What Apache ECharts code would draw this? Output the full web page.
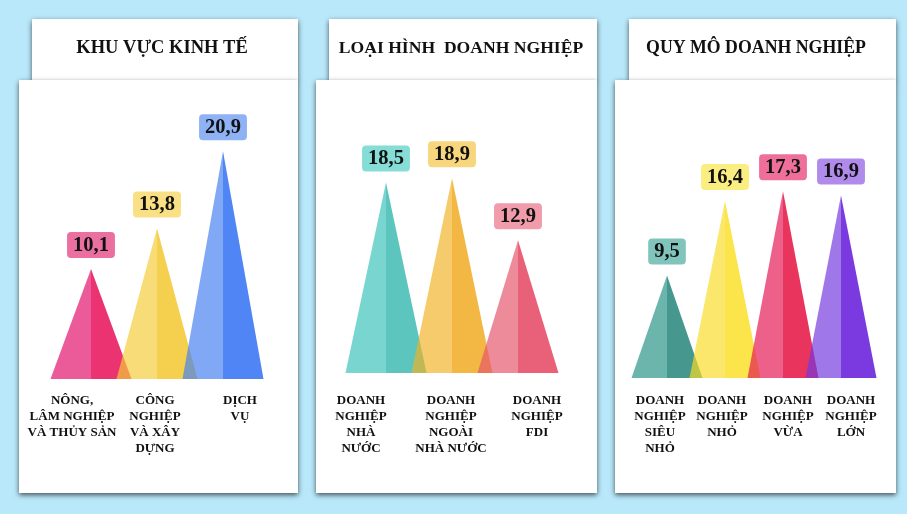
<!DOCTYPE html>
<html>
<head>
<meta charset="utf-8">
<script src="https://cdn.jsdelivr.net/npm/echarts@6/dist/echarts.min.js"></script>
<style>
  html, body { margin: 0; padding: 0; background: #B9E8FA; }
  #main { width: 907px; height: 514px; }
</style>
</head>
<body>
<div id="main"></div>
<script>
// data
var sectorTitle = 'KHU VỰC KINH TẾ';
var sectorCats = ['NÔNG,\nLÂM NGHIỆP\nVÀ THỦY SẢN', 'CÔNG\nNGHIỆP\nVÀ XÂY\nDỰNG', 'DỊCH\nVỤ'];
var sectorValues = [10.1, 13.8, 20.9];

var typeTitle = 'LOẠI HÌNH  DOANH NGHIỆP';
var typeCats = ['DOANH\nNGHIỆP\nNHÀ\nNƯỚC', 'DOANH\nNGHIỆP\nNGOÀI\nNHÀ NƯỚC', 'DOANH\nNGHIỆP\nFDI'];
var typeValues = [18.5, 18.9, 12.9];

var sizeTitle = 'QUY MÔ DOANH NGHIỆP';
var sizeCats = ['DOANH\nNGHIỆP\nSIÊU\nNHỎ', 'DOANH\nNGHIỆP\nNHỎ', 'DOANH\nNGHIỆP\nVỪA', 'DOANH\nNGHIỆP\nLỚN'];
var sizeValues = [9.5, 16.4, 17.3, 16.9];

var SERIF = '"Liberation Serif", "Times New Roman", serif';
var ALPHA = 0.68;

// layout + colours per panel
var panels = [
  {
    title: sectorTitle, cats: sectorCats, values: sectorValues,
    body: [19, 80, 279, 413], head: [32, 19, 266, 62], titleX: 162, titleSize: 18.5,
    grid: { left: 58, width: 198, top: 106.5, height: 272.5 },
    halfWidth: 40.5, labelMargin: 14, labelShift: [-19, -2, 17],
    left: ['#EC5B98', '#F8DC78', '#80A8F4'],
    right: ['#EA3370', '#F5CF4E', '#5085F5'],
    tag: ['#EC6FA1', '#F9E085', '#8FB2F5']
  },
  {
    title: typeTitle, cats: typeCats, values: typeValues,
    body: [316, 80, 281, 413], head: [329, 19, 268, 62], titleX: 461, titleSize: 17.6,
    grid: { left: 353, width: 198, top: 115.5, height: 257.5 },
    halfWidth: 40.5, labelMargin: 20, labelShift: [-25, -1, 19],
    left: ['#78D5CF', '#F5CB6B', '#EE8B9B'],
    right: ['#5CC5BD', '#F3B743', '#E96079'],
    tag: ['#86DDD5', '#F8D67E', '#F09CAA']
  },
  {
    title: sizeTitle, cats: sizeCats, values: sizeValues,
    body: [615, 80, 281, 413], head: [629, 19, 267, 62], titleX: 756, titleSize: 17.8,
    grid: { left: 638, width: 232, top: 108, height: 270 },
    halfWidth: 35.5, labelMargin: 15, labelShift: [-7, -3, 5, 10],
    left: ['#6BB5AD', '#FBE76B', '#EC5F8A', '#A077E8'],
    right: ['#46978D', '#FBE54A', '#E9355E', '#7B3AE0'],
    tag: ['#80C4BC', '#FBEE80', '#EE709A', '#B18BEC']
  }
];

// colour that shows as `hex` over white when drawn with alpha a
function overWhite(hex, a) {
  var n = parseInt(hex.slice(1), 16);
  var c = [n >> 16 & 255, n >> 8 & 255, n & 255].map(function (v) {
    return Math.max(0, Math.min(255, Math.round((v - 255 * (1 - a)) / a)));
  });
  return 'rgba(' + c.join(',') + ',' + a + ')';
}

function fmt(v) { return String(v).replace('.', ','); }

var shadow = { shadowBlur: 5, shadowOffsetX: 0, shadowOffsetY: 2, shadowColor: 'rgba(0,0,0,0.65)' };
var graphics = [];
var grids = [], xAxes = [], yAxes = [], series = [];

panels.forEach(function (p, k) {
  graphics.push({
    type: 'rect', z: 1,
    shape: { x: p.head[0], y: p.head[1], width: p.head[2], height: p.head[3] },
    style: Object.assign({ fill: '#fff' }, shadow)
  });
  graphics.push({
    type: 'rect', z: 2,
    shape: { x: p.body[0], y: p.body[1], width: p.body[2], height: p.body[3] },
    style: Object.assign({ fill: '#fff' }, shadow)
  });
  graphics.push({
    type: 'text', z: 3, x: p.titleX, y: 48,
    style: {
      text: p.title, align: 'center', verticalAlign: 'middle',
      fontFamily: SERIF, fontWeight: 'bold', fontSize: p.titleSize, fill: '#111'
    }
  });

  grids.push(Object.assign({ containLabel: false }, p.grid));
  xAxes.push({
    type: 'category', gridIndex: k, z: 10,
    data: p.cats.map(function (c, i) {
      var s = p.labelShift[i];
      return { value: c, textStyle: { padding: s >= 0 ? [0, 0, 0, 2 * s] : [0, -2 * s, 0, 0] } };
    }),
    axisLine: { show: false }, axisTick: { show: false }, splitLine: { show: false },
    axisLabel: {
      interval: 0, margin: p.labelMargin, color: '#111',
      fontFamily: SERIF, fontWeight: 'bold', fontSize: 13, lineHeight: 16
    }
  });
  yAxes.push({ type: 'value', gridIndex: k, min: 0, max: 25, show: false });

  series.push({
    type: 'custom', xAxisIndex: k, yAxisIndex: k, z: 5,
    data: p.values.map(function (v, i) { return [i, v]; }),
    encode: { x: 0, y: 1 },
    renderItem: function (params, api) {
      var i = api.value(0);
      var v = api.value(1);
      var top = api.coord([i, v]);
      var base = api.coord([i, 0]);
      var hw = p.halfWidth;
      return {
        type: 'group',
        children: [
          {
            type: 'polygon',
            shape: { points: [[base[0] - hw, base[1]], [top[0], top[1]], [top[0], base[1]]] },
            style: { fill: overWhite(p.left[i], ALPHA) }
          },
          {
            type: 'polygon',
            shape: { points: [[top[0], top[1]], [base[0] + hw, base[1]], [top[0], base[1]]] },
            style: { fill: p.right[i] }
          },
          {
            type: 'text', x: top[0], y: top[1] - 11,
            style: {
              text: fmt(v), align: 'center', verticalAlign: 'bottom',
              fontFamily: SERIF, fontWeight: 'bold', fontSize: 20.5, fill: '#111',
              backgroundColor: p.tag[i], borderRadius: 4, padding: [3, 6, 2, 6]
            }
          }
        ]
      };
    }
  });
});

var myChart = echarts.init(document.getElementById('main'));
myChart.setOption({
  backgroundColor: '#B9E8FA',
  animation: false,
  graphic: graphics,
  grid: grids,
  xAxis: xAxes,
  yAxis: yAxes,
  series: series
});
</script>
</body>
</html>
